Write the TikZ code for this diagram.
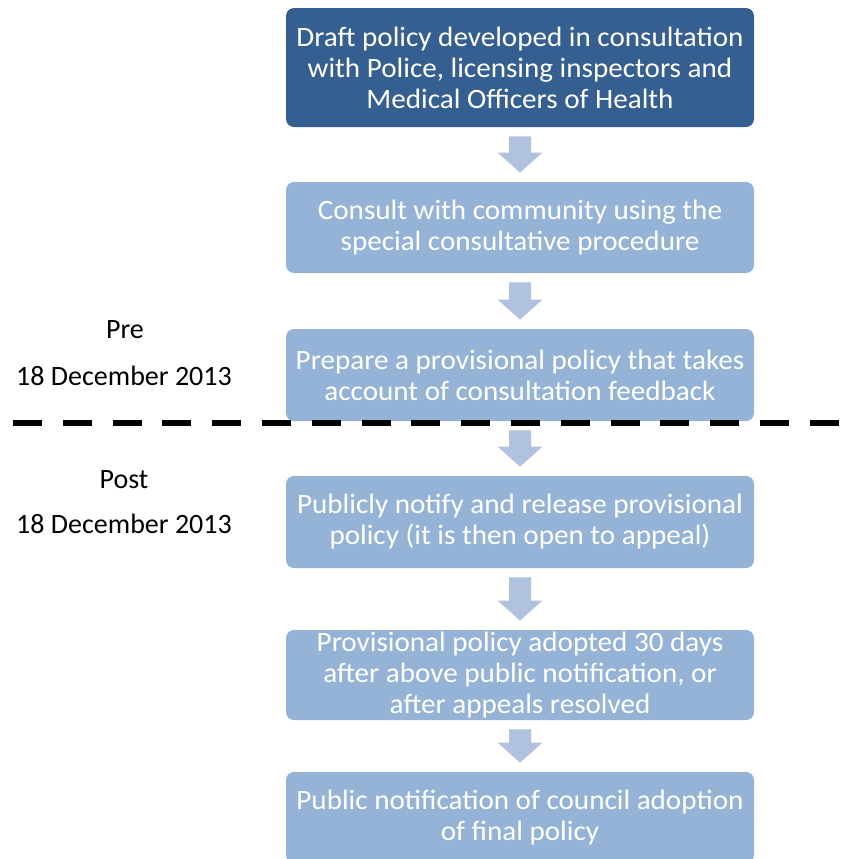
\documentclass[tikz,border=0pt]{standalone}
\usepackage{fontspec}
\setmainfont{Carlito}
\newfontfamily\boxfont[FakeStretch=1.04]{Carlito}
\usepackage{tikz}
\usetikzlibrary{calc}
\definecolor{darkbox}{RGB}{54,95,145}
\definecolor{lightbox}{RGB}{149,179,215}
\definecolor{arrowfill}{RGB}{176,194,222}

\newcommand{\flowarrow}[2]{%
\fill[arrowfill] let \p1=(#1.south), \p2=(#2.north) in
(\x1-5.5pt,\y1-4.5pt) -- (\x1+5.5pt,\y1-4.5pt) -- (\x1+5.5pt,\y2+14.5pt)
-- (\x1+11.25pt,\y2+14.5pt) -- (\x1,\y2+4.5pt) -- (\x1-11.25pt,\y2+14.5pt)
-- (\x1-5.5pt,\y2+14.5pt) -- cycle;}

\begin{document}
\begin{tikzpicture}[%
x={(0.5pt,0pt)},
y={(0pt,-0.5pt)},
box/.style={rounded corners=4pt,minimum width=234pt,inner sep=0pt,align=center,
  text=white,font=\boxfont\fontsize{14}{15.5}\selectfont},
datelabel/.style={anchor=base,font=\fontsize{14}{16}\selectfont},
divider/.style={line width=3pt,dash pattern=on 14.5pt off 10.4pt},
]

\useasboundingbox (0,0) rectangle (857,859);
\clip (0,0) rectangle (857,859);

\coordinate (L) at (13,423);
\coordinate (R) at (839,423);

%Kaesten
\node[box,fill=darkbox,minimum height=59.5pt](draft) at (520,67.5){Draft policy developed in consultation\\with Police, licensing inspectors and\\Medical Officers of Health};
\node[box,fill=lightbox,minimum height=45.5pt](consult) at (520,227.5){Consult with community using the\\special consultative procedure};
\node[box,fill=lightbox,minimum height=46pt](prepare) at (520,375){Prepare a provisional policy that takes\\account of consultation feedback};
\node[box,fill=lightbox,minimum height=46pt](notify) at (520,522){Publicly notify and release provisional\\policy (it is then open to appeal)};
\node[box,fill=lightbox,minimum height=45pt](adopt) at (520,675){Provisional policy adopted 30 days\\after above public notification, or\\after appeals resolved};
\node[box,fill=lightbox,minimum height=45.5pt](final) at (520,817.5){Public notification of council adoption\\of final policy};

%Pfeile
\flowarrow{draft}{consult}
\flowarrow{consult}{prepare}
\flowarrow{prepare}{notify}
\flowarrow{notify}{adopt}
\flowarrow{adopt}{final}

%Trennlinie
\draw[divider] (L) -- (R);

%Beschriftung
\node[datelabel](pre) at (125,338){Pre};
\node[datelabel](predate) at (124,385){18 December 2013};
\node[datelabel](post) at (124,488){Post};
\node[datelabel](postdate) at (124,533){18 December 2013};

\end{tikzpicture}
\end{document}
